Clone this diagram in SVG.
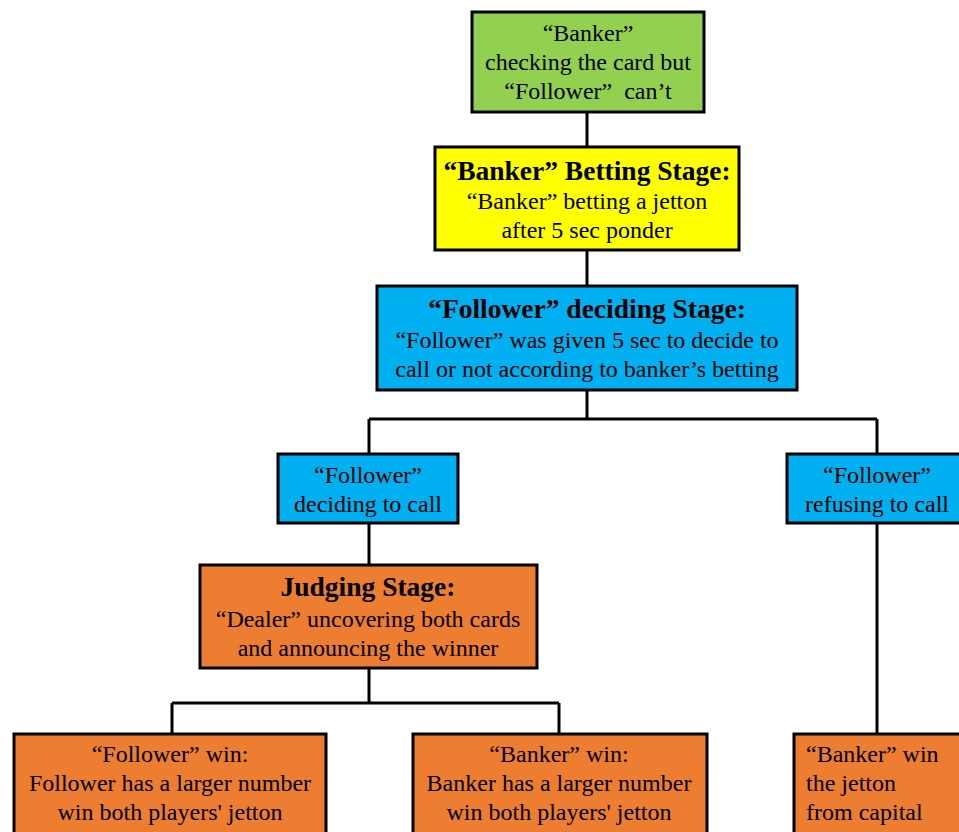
<svg xmlns="http://www.w3.org/2000/svg" width="959" height="832" viewBox="0 0 959 832">
<style>
.box{stroke:#000;stroke-width:3}
.g{fill:#92D050}.y{fill:#FFFF00}.b{fill:#00B0F0}.o{fill:#ED7D31}
text{font-family:'Liberation Serif','Times New Roman','DejaVu Serif',serif;font-size:24px;fill:#000}
.c{text-anchor:middle}
.h{font-weight:bold;font-size:27.5px}
.pre{white-space:pre}
.conn{fill:none;stroke:#000;stroke-width:3}
</style>
<rect width="959" height="832" fill="#fff"/>
<g id="connectors">
<path class="conn" d="M587 112V147"/>
<path class="conn" d="M587 250V286"/>
<path class="conn" d="M587 390V419M369 419H877M369 419V454M877 419V454"/>
<path class="conn" d="M369 523V565"/>
<path class="conn" d="M369 668V703M172 703H559M172 703V734M559 703V734"/>
<path class="conn" d="M877 523V734"/>
</g>
<g id="n1">
<rect class="box g" x="472" y="12" width="232" height="100"/>
<text class="c" x="588" y="41">“Banker”</text>
<text class="c" x="588" y="70">checking the card but</text>
<text class="c pre" x="588" y="99" xml:space="preserve">“Follower”  can’t</text>
</g>
<g id="n2">
<rect class="box y" x="435" y="147" width="304" height="103"/>
<text class="c h" x="587" y="180">“Banker” Betting Stage:</text>
<text class="c" x="587" y="209">“Banker” betting a jetton</text>
<text class="c" x="587" y="238">after 5 sec ponder</text>
</g>
<g id="n3">
<rect class="box b" x="377" y="286" width="420" height="104"/>
<text class="c h" x="587" y="318">“Follower” deciding Stage:</text>
<text class="c" x="587" y="348">“Follower” was given 5 sec to decide to</text>
<text class="c" x="587" y="377">call or not according to banker’s betting</text>
</g>
<g id="n4">
<rect class="box b" x="278" y="454" width="180" height="69"/>
<text class="c" x="368" y="483">“Follower”</text>
<text class="c" x="368" y="512">deciding to call</text>
</g>
<g id="n5">
<rect class="box b" x="787" y="454" width="180" height="69"/>
<text class="c" x="877" y="483">“Follower”</text>
<text class="c" x="877" y="512">refusing to call</text>
</g>
<g id="n6">
<rect class="box o" x="200" y="565" width="337" height="103"/>
<text class="c h" x="368" y="596">Judging Stage:</text>
<text class="c" x="368" y="627">“Dealer” uncovering both cards</text>
<text class="c" x="368" y="656">and announcing the winner</text>
</g>
<g id="n7">
<rect class="box o" x="14" y="734" width="312" height="110"/>
<text class="c" x="170" y="762">“Follower” win:</text>
<text class="c" x="170" y="791">Follower has a larger number</text>
<text class="c" x="170" y="820">win both players' jetton</text>
</g>
<g id="n8">
<rect class="box o" x="413" y="734" width="294" height="110"/>
<text class="c" x="559" y="762">“Banker” win:</text>
<text class="c" x="559" y="791">Banker has a larger number</text>
<text class="c" x="559" y="820">win both players' jetton</text>
</g>
<g id="n9">
<rect class="box o" x="794" y="734" width="180" height="110"/>
<text x="806" y="762">“Banker” win</text>
<text x="806" y="791">the jetton</text>
<text x="806" y="820">from capital</text>
</g>
</svg>
